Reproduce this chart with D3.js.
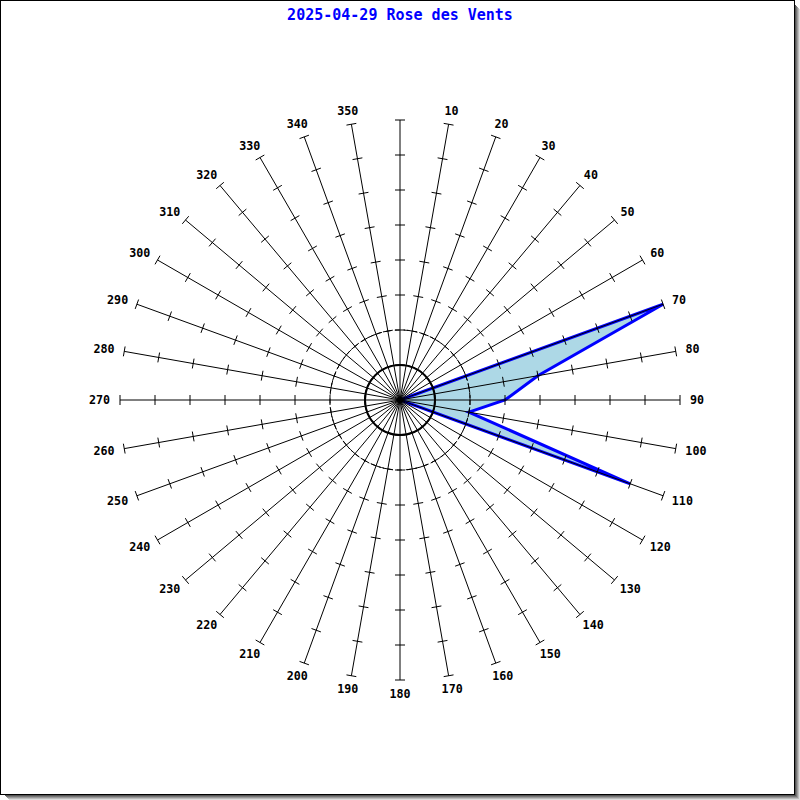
<!DOCTYPE html>
<html><head><meta charset="utf-8">
<script src="https://cdn.jsdelivr.net/npm/d3@7"></script>
<style>body{margin:0;background:#fff}svg{display:block}</style>
</head><body>
<script>
const title = "2025-04-29 Rose des Vents";
const directions = d3.range(0, 360, 10);
const values = [0,0,0,0,0,0,0,8,4,3,2,7,0,0,0,0,0,0,0,0,0,0,0,0,0,0,0,0,0,0,0,0,0,0,0,0];
const tickValues = [1,2,3,4,5,6,7,8];
const maxValue = 8;

const W = 800, H = 800, cx = 400, cy = 400, R = 280;
const svg = d3.select("body").append("svg").attr("width", W).attr("height", H);

// frame with shadow
const sh = ["#555","#777","#999","#bbb","#ddd"];
for (let i=0;i<5;i++){
  svg.append("line").attr("x1",795.5+i).attr("x2",795.5+i).attr("y1",5+i).attr("y2",800).attr("stroke",sh[i]).attr("stroke-width",1);
  svg.append("line").attr("y1",795.5+i).attr("y2",795.5+i).attr("x1",5+i).attr("x2",800).attr("stroke",sh[i]).attr("stroke-width",1);
}
svg.append("rect").attr("x",0.5).attr("y",0.5).attr("width",794).attr("height",794).attr("fill","#fff").attr("stroke","#000").attr("stroke-width",1);

const r = d3.scaleLinear().domain([0, maxValue]).range([0, R]);
const ang = d => d * Math.PI / 180;
const g = svg.append("g").attr("transform", `translate(${cx},${cy})`);

// data polygon
const pts = directions.map((d,i)=>[Math.sin(ang(d))*r(values[i]), -Math.cos(ang(d))*r(values[i])]);
g.append("path").attr("d", d3.line()(pts)+"Z")
  .attr("fill","#add8e6").attr("stroke","#0000ff").attr("stroke-width",3).attr("stroke-linejoin","miter");

// circles
g.append("circle").attr("r", r(1)).attr("fill","none").attr("stroke","#000").attr("stroke-width",2);
g.append("circle").attr("r", r(2)).attr("fill","none").attr("stroke","#000").attr("stroke-width",1).attr("stroke-dasharray","5,4");

// spokes and ticks
const charW = 7, charH = 7, gap = 10;
directions.forEach(d=>{
  const a = ang(d), ux = Math.sin(a), uy = -Math.cos(a);
  g.append("line").attr("x1",0).attr("y1",0).attr("x2",ux*R).attr("y2",uy*R).attr("stroke","#000").attr("stroke-width",1);
  tickValues.forEach(t=>{
    const px = ux*r(t), py = uy*r(t);
    g.append("line").attr("x1",px - uy*5).attr("y1",py + ux*5).attr("x2",px + uy*5).attr("y2",py - ux*5)
      .attr("stroke","#000").attr("stroke-width",1);
  });
  if (d !== 0) {
    const w = String(d).length * charW;
    const lx = ux*(R+gap) + ux*w/2, ly = uy*(R+gap) + uy*charH/2;
    g.append("text").attr("x", lx).attr("y", ly).attr("dy","0.36em")
      .attr("text-anchor","middle").attr("font-family","'DejaVu Sans Mono', monospace")
      .attr("font-weight","bold").attr("font-size",11.7).text(d);
  }
});

svg.append("text").attr("x",400).attr("y",19.5).attr("text-anchor","middle")
  .attr("font-family","'DejaVu Sans Mono', monospace").attr("font-weight","bold")
  .attr("font-size",15).attr("fill","#0000ff").text(title);
</script>
</body></html>
